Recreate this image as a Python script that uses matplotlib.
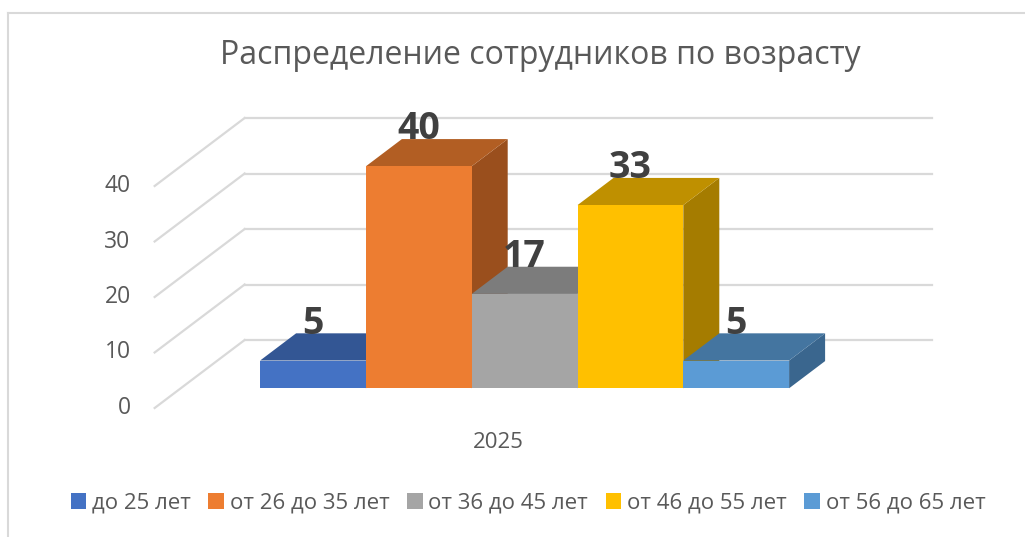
import numpy as np
import matplotlib.pyplot as plt
from matplotlib.patches import Polygon, Patch
from matplotlib.lines import Line2D

plt.rcParams['font.family'] = ['Open Sans', 'DejaVu Sans']

# Data
title = "Распределение сотрудников по возрасту"
category = "2025"
series = ["до 25 лет", "от 26 до 35 лет", "от 36 до 45 лет", "от 46 до 55 лет", "от 56 до 65 лет"]
values = [5, 40, 17, 33, 5]
yticks = [0, 10, 20, 30, 40]

# front / top / side colours for each series
front_cols = ["#4472C4", "#ED7D31", "#A5A5A5", "#FFC000", "#5B9BD5"]
top_cols = ["#335694", "#B25E23", "#7C7C7C", "#BF9000", "#4475A0"]
side_cols = ["#2B4A80", "#9A4F1D", "#6B6B6B", "#A57C00", "#3A668E"]

W, H = 1025, 537
fig = plt.figure(figsize=(W / 100, H / 100), dpi=100)
ax = fig.add_axes([0, 0, 1, 1])

# pixel layout of the oblique projection
x0_px, y0_px = 234, 408   # floor front, x=0
bar_px = 105.8            # one bar width in pixels
unit_px = 5.55            # one value unit in pixels
ax.set_xlim(-x0_px / bar_px, (W - x0_px) / bar_px)
ax.set_ylim((y0_px - H) / unit_px, y0_px / unit_px)
ax.axis('off')

# full depth vector (z: 0 -> 1) in data units
dx, dy = 90 / bar_px, 68 / unit_px
z_front, z_back = 0.29, 0.69
x_left, x_right = -0.75, len(values) + 0.75


def proj(x, y, z):
    return (x + z * dx, y + z * dy)


# back wall grid and side diagonals
grid_col = "#d9d9d9"
for v in yticks:
    p1, p2 = proj(x_left, v, 1), proj(x_right, v, 1)
    ax.plot([p1[0], p2[0]], [p1[1], p2[1]], color=grid_col, lw=1.6, zorder=1)
    q = proj(x_left, v, 0)
    ax.plot([q[0], p1[0]], [q[1], p1[1]], color=grid_col, lw=1.6, zorder=1)
    ax.annotate(str(v), q, xytext=(-24, 0), textcoords='offset pixels',
                ha='right', va='center', fontsize=16.5, color="#595959")

# bars, left to right
for i, v in enumerate(values):
    xa, xb = i, i + 1
    side = [proj(xb, 0, z_front), proj(xb, 0, z_back), proj(xb, v, z_back), proj(xb, v, z_front)]
    top = [proj(xa, v, z_front), proj(xb, v, z_front), proj(xb, v, z_back), proj(xa, v, z_back)]
    front = [proj(xa, 0, z_front), proj(xb, 0, z_front), proj(xb, v, z_front), proj(xa, v, z_front)]
    ax.add_patch(Polygon(side, closed=True, fc=side_cols[i], ec='none', zorder=2 + i))
    ax.add_patch(Polygon(top, closed=True, fc=top_cols[i], ec='none', zorder=2 + i))
    ax.add_patch(Polygon(front, closed=True, fc=front_cols[i], ec='none', zorder=2 + i))
    lx, ly = proj(i + 0.5, v, z_front)
    ax.annotate(str(v), (lx, ly), xytext=(0, 37), textcoords='offset pixels',
                ha='center', va='center', fontsize=27, fontweight='bold',
                color="#404040", zorder=20)

# category label
cx, cy = proj(len(values) / 2, 0, 0)
ax.annotate(category, (cx, cy), xytext=(0, -34), textcoords='offset pixels',
            ha='center', va='center', fontsize=16, color="#595959")

# title
fig.text(540 / W, 1 - 55 / H, title, ha='center', va='center', fontsize=23, color="#595959")

# legend
handles = [Patch(facecolor=c, edgecolor='none') for c in front_cols]
fig.legend(handles, series, loc='center', bbox_to_anchor=(528 / W, 1 - 503 / H), ncol=5,
           frameon=False, fontsize=16, labelcolor="#595959", handlelength=0.7,
           handleheight=0.7, handletextpad=0.25, columnspacing=0.8, borderaxespad=0)

# chart border (cropped at right and bottom)
fig.add_artist(Line2D([8 / W, 1], [1 - 13 / H, 1 - 13 / H], color="#d9d9d9", lw=1.5))
fig.add_artist(Line2D([8 / W, 8 / W], [1 - 13 / H, 0], color="#d9d9d9", lw=1.5))

fig.savefig("out.png", dpi=100, facecolor='white')
